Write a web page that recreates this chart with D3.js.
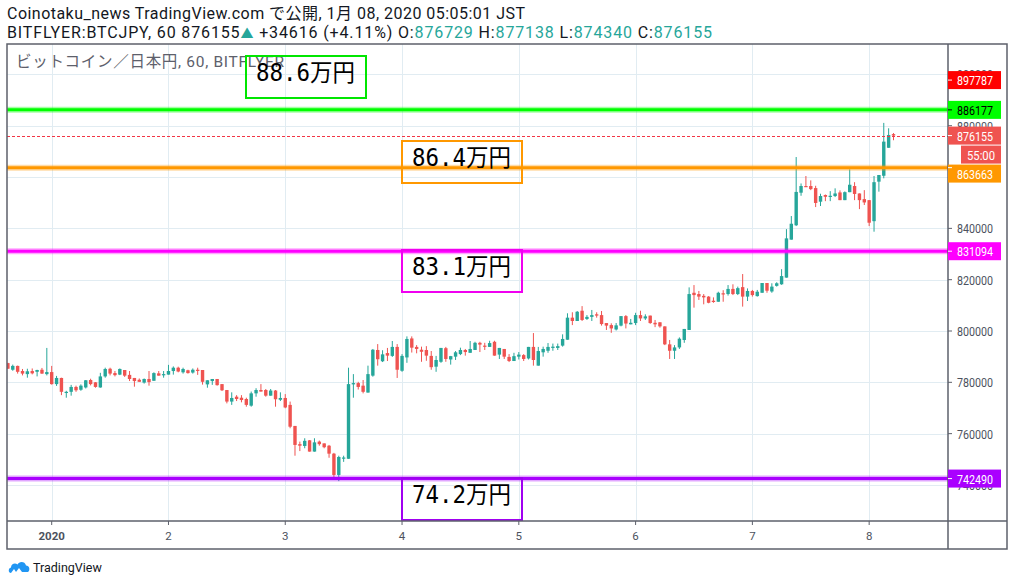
<!DOCTYPE html>
<html><head><meta charset="utf-8">
<script src="https://cdn.jsdelivr.net/npm/d3@7"></script>
<style>body{margin:0;background:#fff;}svg{display:block}</style>
</head><body><svg id="c" width="1014" height="586"></svg>
<script>
// Hourly OHLC, BITFLYER BTC/JPY, in thousands of yen (first bar: 2019-12-31 15:00 JST)
const openK = [787.5,784.9,786.4,784.4,783.2,784.4,784.1,784.9,783.2,784.0,
779.3,781.7,776.0,776.3,778.2,777.1,778.0,780.9,780.0,778.0,
782.3,785.3,783.6,783.0,784.8,782.9,781.7,781.0,779.9,781.3,
780.6,783.5,782.9,783.0,784.4,785.7,783.9,784.7,783.8,784.9,
784.8,779.2,780.5,781.3,779.3,777.0,772.5,774.4,774.0,773.5,
770.9,775.7,777.0,777.0,774.8,776.8,773.2,773.9,771.2,763.0,
755.9,755.2,757.4,753.0,756.9,756.2,755.3,752.2,743.9,750.4,
750.2,779.2,779.7,778.7,776.0,782.6,792.6,788.2,791.4,790.3,
793.8,784.5,789.7,797.1,793.8,792.7,792.6,790.3,786.1,788.0,
793.3,788.9,790.0,791.0,792.6,791.5,792.6,795.4,794.3,793.8,
795.8,790.8,793.0,789.9,788.3,790.0,790.6,789.3,793.8,786.5,
791.7,792.3,793.4,793.4,794.3,796.6,805.2,803.9,807.9,804.7,
805.5,806.5,806.2,803.1,802.3,800.6,802.1,805.8,802.6,803.1,
806.2,804.9,806.0,803.2,803.4,801.8,794.8,792.3,793.6,796.5,
800.4,814.9,814.4,813.7,813.4,811.8,811.4,814.7,814.4,816.4,
814.4,817.1,813.4,815.6,813.6,814.9,818.7,815.4,817.6,818.2,
820.8,835.6,841.2,853.9,856.5,856.5,855.7,850.4,853.0,852.5,
852.6,854.0,851.0,854.1,856.5,853.6,851.4,851.0,842.8,858.2,
860.5,871.4,876.729];
const highK = [787.6,786.9,786.5,785.2,785.3,785.4,784.9,785.6,793.4,786.4,
782.5,781.8,776.7,779.0,778.7,779.2,780.9,781.4,780.1,783.7,
785.7,785.7,784.4,785.4,784.8,784.4,781.7,781.5,781.5,784.4,
783.9,784.4,784.4,786.8,786.2,786.1,785.7,784.9,785.4,785.7,
784.8,780.8,781.3,781.3,779.3,777.0,776.1,775.0,775.0,774.0,
776.4,777.7,779.3,777.4,777.4,777.0,776.1,775.4,772.5,763.0,
756.9,758.2,757.5,758.2,757.3,756.2,755.6,752.5,751.4,751.4,
785.7,783.2,780.2,780.9,786.5,793.0,794.9,792.5,793.4,796.1,
794.9,791.0,797.9,797.9,794.5,793.9,794.1,792.2,790.3,793.4,
793.8,790.3,792.2,793.5,793.0,796.1,795.8,795.8,795.4,796.2,
796.2,793.4,793.0,791.0,791.5,791.8,791.0,793.8,799.2,793.8,
793.9,795.3,795.1,795.1,798.7,806.9,807.3,807.8,809.7,806.2,
808.2,807.3,807.8,803.1,803.0,803.1,805.8,806.2,804.7,807.1,
807.9,806.5,806.0,804.3,803.4,801.8,796.5,794.5,797.5,800.8,
817.0,817.9,815.6,814.4,813.6,813.1,815.3,815.9,817.9,818.2,
817.3,822.2,816.6,816.0,816.0,818.7,818.7,818.6,819.0,824.1,
839.7,844.8,867.8,857.5,860.4,858.7,856.6,853.5,853.2,854.5,
855.6,854.8,854.4,863.0,858.0,853.6,854.9,851.0,860.4,860.8,
881.1,879.0,877.138];
const lowK = [785.2,784.5,783.4,782.7,781.8,783.1,782.3,783.3,782.7,779.1,
778.6,775.0,774.0,774.8,776.3,776.7,777.6,778.8,777.9,777.9,
781.8,782.7,782.3,782.8,782.1,780.5,778.3,780.2,779.5,778.7,
780.6,782.6,781.8,783.0,783.0,783.9,783.4,783.4,783.4,782.9,
779.1,777.9,779.0,778.7,776.6,771.8,771.2,772.7,772.2,770.5,
770.5,774.4,776.4,774.4,774.8,770.5,772.7,769.9,762.1,751.4,
753.2,754.3,753.0,753.0,755.3,754.3,750.6,742.8,741.5,749.0,
750.2,774.0,777.2,775.7,776.0,782.2,786.5,787.9,788.3,789.9,
781.7,784.1,787.6,791.6,791.3,788.0,788.4,784.9,784.1,787.6,
788.0,786.9,788.7,790.6,790.4,791.5,792.6,791.8,792.6,793.8,
790.4,789.1,789.1,787.9,788.3,788.9,788.3,788.9,786.5,786.5,
790.0,791.5,792.3,792.6,793.9,796.6,802.3,803.9,803.9,804.3,
803.9,805.2,802.1,800.4,799.3,800.2,801.8,801.0,802.6,802.3,
803.9,804.3,802.8,801.5,801.3,794.5,789.1,789.1,793.0,795.4,
800.4,809.1,812.1,810.4,810.8,811.0,811.4,811.4,813.8,814.0,
814.0,809.5,811.7,813.4,813.4,814.9,814.9,814.9,817.3,818.0,
820.8,835.6,840.9,852.7,856.1,854.9,848.3,848.7,850.6,850.6,
852.2,851.0,851.0,854.1,851.0,847.5,849.1,840.9,838.7,854.3,
859.5,871.4,874.340];
const closeK = [785.3,786.4,784.1,783.4,784.3,783.5,784.8,783.4,784.0,779.3,
781.7,776.3,776.3,778.2,776.9,778.7,780.8,779.3,778.2,782.3,
785.2,783.4,782.8,785.2,782.6,781.3,780.5,780.2,781.3,780.1,
783.6,782.6,783.2,784.4,785.7,784.2,785.2,783.6,784.9,784.6,
780.2,780.8,781.3,778.9,776.9,772.5,773.9,773.5,773.1,771.2,
775.7,777.0,776.4,774.8,776.8,773.4,773.9,770.2,762.7,755.6,
755.3,757.2,753.0,756.6,755.9,754.7,752.2,743.9,750.9,750.7,
779.3,779.7,778.2,776.3,783.2,792.7,789.0,790.9,790.4,793.8,
784.9,790.3,796.9,793.5,793.0,791.9,790.4,785.9,788.7,793.4,
789.1,790.2,791.7,792.6,791.8,793.0,795.4,794.7,793.9,795.3,
790.4,793.4,790.0,788.3,790.2,790.8,789.1,793.8,788.7,792.2,
793.0,793.8,793.9,794.1,796.9,805.2,803.9,807.5,804.3,805.5,
806.2,806.0,802.7,802.1,801.0,802.2,805.8,802.9,803.2,806.2,
804.9,805.7,803.1,802.6,801.8,794.8,792.3,793.6,797.0,800.8,
814.4,814.0,813.4,813.1,811.0,811.3,814.9,814.4,816.4,814.4,
816.7,813.4,815.6,814.0,815.3,818.7,815.7,817.3,818.6,821.4,
836.1,841.8,854.2,856.5,856.1,855.3,849.9,852.6,852.3,852.7,
853.6,851.0,854.1,857.0,853.4,851.0,850.1,842.2,858.0,860.8,
873.8,876.4,876.155];

const dayLabels = ["2020","2","3","4","5","6","7","8"];
const priceTicks = [740000,760000,780000,800000,820000,840000,860000,880000,900000];
const levelPrices = [886177, 863663, 831094, 742490];
const levelColors = ["#00ff00", "#ff9800", "#ff00ff", "#aa00ff"];
const levelTextColors = ["#000000", "#ffffff", "#ffffff", "#ffffff"];
const boxLabels = ["88.6万円", "86.4万円", "83.1万円", "74.2万円"];
const highMarker = 897787;
const lastPrice = 876155;
const countdown = "55:00";

// ---------- layout ----------
const L = 7, R = 948, T = 44, B = 521, OR = 1007, OB = 549;
const H = 3600e3;
const firstBar = Date.UTC(2019, 11, 31, 15);
const bars = openK.map((o, i) => ({
  t: new Date(firstBar + i * H),
  o: o * 1000, h: highK[i] * 1000, l: lowK[i] * 1000, c: closeK[i] * 1000
}));
const dayTicks = dayLabels.map((d, i) => new Date(Date.UTC(2020, 0, 1 + i)));

const x = d3.scaleUtc()
  .domain([new Date(firstBar - 0.185 * H), new Date(firstBar + 193.2 * H)])
  .range([L, R]);
const y = d3.scaleLinear().domain([725955, 911848]).range([B, T]);

const svg = d3.select("#c");
const FONT = "Roboto, 'Noto Sans CJK JP', sans-serif";
svg.append("rect").attr("width", 1014).attr("height", 586).attr("fill", "#fff");

svg.append("clipPath").attr("id", "plot").append("rect")
  .attr("x", L).attr("y", T).attr("width", R - L).attr("height", B - T);

const g = svg.append("g").attr("clip-path", "url(#plot)");
// grid
g.selectAll(".hg").data(priceTicks).join("line")
  .attr("x1", L).attr("x2", R).attr("y1", d => Math.round(y(d)) + 0.5).attr("y2", d => Math.round(y(d)) + 0.5)
  .attr("stroke", "#e1ecf2").attr("stroke-width", 1);
g.selectAll(".vg").data(dayTicks).join("line")
  .attr("y1", T).attr("y2", B).attr("x1", d => Math.round(x(d)) + 0.5).attr("x2", d => Math.round(x(d)) + 0.5)
  .attr("stroke", "#e1ecf2").attr("stroke-width", 1);

// watermark / legend
g.append("text").attr("x", 16).attr("y", 67).attr("font-family", FONT).attr("font-size", 15.5)
  .attr("fill", "#5d606b").attr("textLength", 268).text("ビットコイン／日本円, 60, BITFLYER");

// candles
const up = "#26a69a", dn = "#ef5350";
const cg = g.append("g");
cg.selectAll("line").data(bars).join("line")
  .attr("x1", d => x(d.t)).attr("x2", d => x(d.t))
  .attr("y1", d => y(d.h)).attr("y2", d => y(d.l))
  .attr("stroke", d => d.c >= d.o ? up : dn).attr("stroke-width", 1);
cg.selectAll("rect").data(bars).join("rect")
  .attr("x", d => x(d.t) - 1.7).attr("width", 3.4)
  .attr("y", d => y(Math.max(d.o, d.c)))
  .attr("height", d => Math.max(1.2, Math.abs(y(d.o) - y(d.c))))
  .attr("fill", d => d.c >= d.o ? up : dn);

// level lines
levelPrices.forEach((p, i) => {
  g.append("line").attr("x1", L).attr("x2", R).attr("y1", y(p)).attr("y2", y(p))
    .attr("stroke", levelColors[i]).attr("stroke-width", 6).attr("stroke-opacity", 0.35);
  g.append("line").attr("x1", L).attr("x2", R).attr("y1", y(p)).attr("y2", y(p))
    .attr("stroke", levelColors[i]).attr("stroke-width", 3);
});
// last price dashed line
const ly = Math.round(y(lastPrice)) + 0.5;
g.append("line").attr("x1", L).attr("x2", R).attr("y1", ly).attr("y2", ly)
  .attr("stroke", "#f23645").attr("stroke-width", 1).attr("stroke-dasharray", "3,2");

// annotation boxes
const boxes = [
  {x0: 246, y0: 56, c: "#00e600"},
  {x0: 402, y0: 141, c: "#ff9800"},
  {x0: 402, y0: 250, c: "#f000f0"},
  {x0: 402, y0: 478, c: "#a000f0"}
];
boxes.forEach((b, i) => {
  svg.append("rect").attr("x", b.x0).attr("y", b.y0).attr("width", 120).attr("height", 42)
    .attr("fill", "none").attr("stroke", b.c).attr("stroke-width", 2);
  svg.append("text").attr("x", b.x0 + 10).attr("y", b.y0 + 25)
    .attr("font-family", "'DejaVu Sans Mono', 'Noto Sans CJK JP', monospace").attr("font-size", 24)
    .attr("fill", "#000").attr("textLength", 99).attr("lengthAdjust", "spacingAndGlyphs")
    .text(boxLabels[i]);
});

// frame
const frame = svg.append("g").attr("stroke", "#5d606b").attr("stroke-width", 1.5).attr("fill", "none");
frame.append("rect").attr("x", L).attr("y", T).attr("width", OR - L).attr("height", OB - T);
frame.append("line").attr("x1", R).attr("x2", R).attr("y1", T).attr("y2", OB);
frame.append("line").attr("x1", L).attr("x2", OR).attr("y1", B).attr("y2", B);

// price axis
const AX = {size: 13.5, len: 36};
const pa = svg.append("g");
pa.selectAll("line").data(priceTicks).join("line")
  .attr("x1", R).attr("x2", R + 4).attr("y1", d => y(d)).attr("y2", d => y(d))
  .attr("stroke", "#5d606b");
pa.selectAll("text").data(priceTicks).join("text")
  .attr("x", 957).attr("y", d => y(d) + 5).attr("font-family", FONT).attr("font-size", AX.size)
  .attr("textLength", AX.len).attr("lengthAdjust", "spacingAndGlyphs")
  .attr("fill", "#4c525e").text(d => d3.format("d")(d));

// price labels (stacked to avoid collisions, like TradingView)
let prevBottom = -Infinity;
function priceLabel(v, natural, bg, fg, x0 = R, w = 1001 - R, tlen = AX.len, tx = 957) {
  const top = Math.max(natural - 9, prevBottom + 1);
  const cy = top + 9;
  svg.append("rect").attr("x", x0).attr("y", top).attr("width", w).attr("height", 18).attr("fill", bg);
  if (x0 === R) svg.append("line").attr("x1", R).attr("x2", R + 4).attr("y1", natural).attr("y2", natural).attr("stroke", fg);
  svg.append("text").attr("x", tx).attr("y", cy + 5).attr("font-family", FONT).attr("font-size", AX.size)
    .attr("textLength", tlen).attr("lengthAdjust", "spacingAndGlyphs")
    .attr("fill", fg).text(v);
  prevBottom = top + 18;
}
priceLabel(d3.format("d")(highMarker), y(highMarker), "#ff0000", "#fff");
priceLabel(d3.format("d")(levelPrices[0]), y(levelPrices[0]), levelColors[0], levelTextColors[0]);
priceLabel(d3.format("d")(lastPrice), y(lastPrice), dn, "#fff");
priceLabel(countdown, y(lastPrice) + 18, dn, "#fff", 961, 40, 28, 967);
for (let i = 1; i < levelPrices.length; i++) {
  priceLabel(d3.format("d")(levelPrices[i]), y(levelPrices[i]), levelColors[i], levelTextColors[i]);
}

// time axis
const ta = svg.append("g");
ta.selectAll("line").data(dayTicks).join("line")
  .attr("x1", d => x(d)).attr("x2", d => x(d)).attr("y1", B).attr("y2", B + 4).attr("stroke", "#5d606b");
ta.selectAll("text").data(dayTicks).join("text")
  .attr("x", d => x(d)).attr("y", 540).attr("text-anchor", "middle")
  .attr("font-family", FONT).attr("font-size", 11.5).attr("fill", "#4c525e")
  .attr("font-weight", (d, i) => i === 0 ? "bold" : "normal")
  .text((d, i) => dayLabels[i]);

// header
svg.append("text").attr("x", 7).attr("y", 19).attr("font-family", FONT).attr("font-size", 16)
  .attr("fill", "#131722").attr("textLength", 518)
  .text("Coinotaku_news TradingView.com で公開, 1月 08, 2020 05:05:01 JST");
const h2 = svg.append("text").attr("x", 7).attr("y", 38).attr("font-family", FONT).attr("font-size", 16)
  .attr("fill", "#131722").attr("textLength", 705);
const parts = [
  ["BITFLYER:BTCJPY, 60 876155", "#131722"], ["▲", up], [" +34616 (+4.11%) O:", "#131722"],
  ["876729", up], [" H:", "#131722"], ["877138", up], [" L:", "#131722"], ["874340", up],
  [" C:", "#131722"], ["876155", up]
];
parts.forEach(p => h2.append("tspan").attr("fill", p[1]).attr("font-size", p[0] === "▲" ? 13 : 16).text(p[0]));

// TradingView logo
const logo = svg.append("g").attr("transform", "translate(8,559)");
logo.append("path").attr("fill", "#2196f3")
  .attr("d", "M3 14 C0 14 0 9 3 8.5 C3 5 7 3.5 9.5 5.5 C11 2 17 2 18 6.5 C21.5 6.5 22.5 11 20 13 L14 13 L11 9 L8 13 L6 10 Z");
svg.append("text").attr("x", 33).attr("y", 572).attr("font-family", FONT).attr("font-size", 12.5)
  .attr("fill", "#131722").text("TradingView");
</script></body></html>
